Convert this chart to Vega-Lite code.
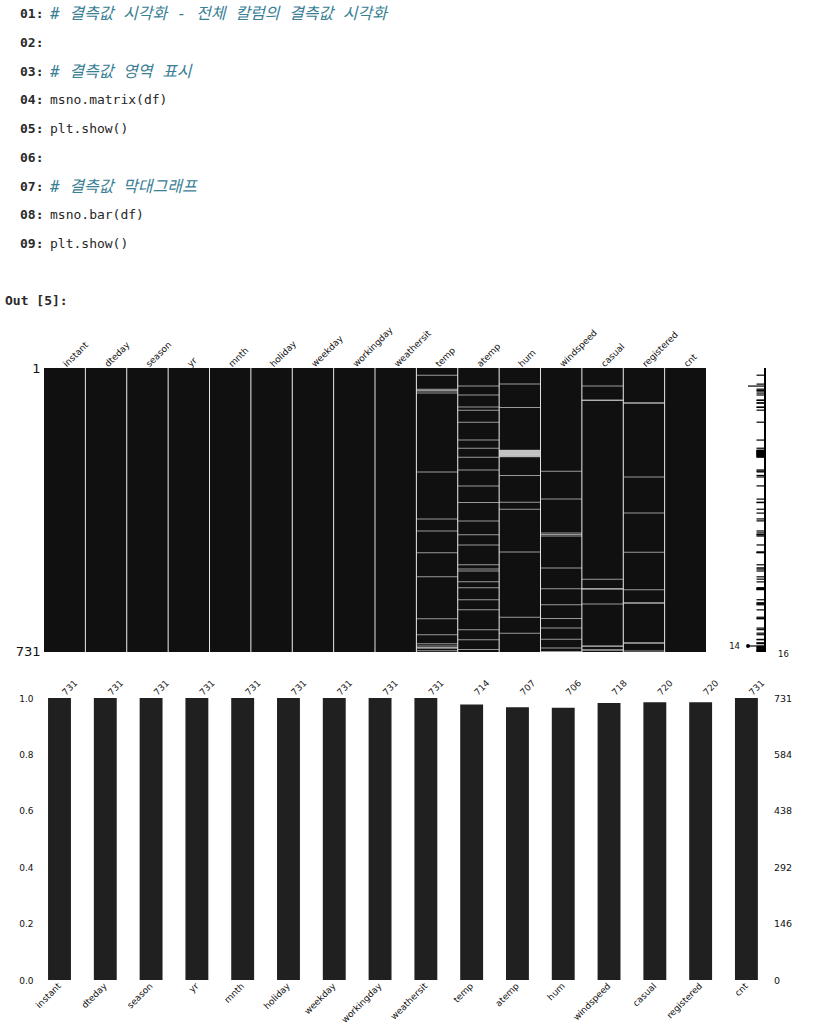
{
  "$schema": "https://vega.github.io/schema/vega-lite/v6.json",
  "background": "white",
  "padding": {"left": 5, "top": 0, "right": 0, "bottom": 0},
  "config": {
    "view": {"stroke": null},
    "font": "DejaVu Sans",
    "axis": {"labelColor": "#111111", "labelFont": "DejaVu Sans", "domain": false, "ticks": false, "grid": false}
  },
  "datasets": {
    "code": [
      {"line": 1, "part": "num", "kind": "num", "text": "01:"},
      {"line": 1, "part": "src", "kind": "comment", "text": "# 결측값 시각화 - 전체 칼럼의 결측값 시각화"},
      {"line": 2, "part": "num", "kind": "num", "text": "02:"},
      {"line": 3, "part": "num", "kind": "num", "text": "03:"},
      {"line": 3, "part": "src", "kind": "comment", "text": "# 결측값 영역 표시"},
      {"line": 4, "part": "num", "kind": "num", "text": "04:"},
      {"line": 4, "part": "src", "kind": "code", "text": "msno.matrix(df)"},
      {"line": 5, "part": "num", "kind": "num", "text": "05:"},
      {"line": 5, "part": "src", "kind": "code", "text": "plt.show()"},
      {"line": 6, "part": "num", "kind": "num", "text": "06:"},
      {"line": 7, "part": "num", "kind": "num", "text": "07:"},
      {"line": 7, "part": "src", "kind": "comment", "text": "# 결측값 막대그래프"},
      {"line": 8, "part": "num", "kind": "num", "text": "08:"},
      {"line": 8, "part": "src", "kind": "code", "text": "msno.bar(df)"},
      {"line": 9, "part": "num", "kind": "num", "text": "09:"},
      {"line": 9, "part": "src", "kind": "code", "text": "plt.show()"},
      {"line": 11, "part": "out", "kind": "num", "text": "Out [5]:"}
    ],
    "cols": [
      {"col": "instant", "count": 731},
      {"col": "dteday", "count": 731},
      {"col": "season", "count": 731},
      {"col": "yr", "count": 731},
      {"col": "mnth", "count": 731},
      {"col": "holiday", "count": 731},
      {"col": "weekday", "count": 731},
      {"col": "workingday", "count": 731},
      {"col": "weathersit", "count": 731},
      {"col": "temp", "count": 714},
      {"col": "atemp", "count": 707},
      {"col": "hum", "count": 706},
      {"col": "windspeed", "count": 718},
      {"col": "casual", "count": 720},
      {"col": "registered", "count": 720},
      {"col": "cnt", "count": 731}
    ],
    "missing": [
      {"col": "temp", "row": 19}, {"col": "temp", "row": 55}, {"col": "temp", "row": 58}, {"col": "temp", "row": 60},
      {"col": "temp", "row": 65}, {"col": "temp", "row": 268}, {"col": "temp", "row": 389}, {"col": "temp", "row": 420},
      {"col": "temp", "row": 476}, {"col": "temp", "row": 538}, {"col": "temp", "row": 646}, {"col": "temp", "row": 687},
      {"col": "temp", "row": 710}, {"col": "temp", "row": 716}, {"col": "temp", "row": 720}, {"col": "temp", "row": 722},
      {"col": "temp", "row": 728},
      {"col": "atemp", "row": 47}, {"col": "atemp", "row": 70}, {"col": "atemp", "row": 101}, {"col": "atemp", "row": 109},
      {"col": "atemp", "row": 140}, {"col": "atemp", "row": 186}, {"col": "atemp", "row": 207}, {"col": "atemp", "row": 230},
      {"col": "atemp", "row": 263}, {"col": "atemp", "row": 304}, {"col": "atemp", "row": 347}, {"col": "atemp", "row": 394},
      {"col": "atemp", "row": 430}, {"col": "atemp", "row": 456}, {"col": "atemp", "row": 507}, {"col": "atemp", "row": 518},
      {"col": "atemp", "row": 523}, {"col": "atemp", "row": 551}, {"col": "atemp", "row": 566}, {"col": "atemp", "row": 597},
      {"col": "atemp", "row": 623}, {"col": "atemp", "row": 674}, {"col": "atemp", "row": 700}, {"col": "atemp", "row": 725},
      {"col": "hum", "row": 42}, {"col": "hum", "row": 102}, {"col": "hum", "row": 212}, {"col": "hum", "row": 213},
      {"col": "hum", "row": 214}, {"col": "hum", "row": 215}, {"col": "hum", "row": 216}, {"col": "hum", "row": 217},
      {"col": "hum", "row": 218}, {"col": "hum", "row": 219}, {"col": "hum", "row": 220}, {"col": "hum", "row": 221},
      {"col": "hum", "row": 222}, {"col": "hum", "row": 223}, {"col": "hum", "row": 224}, {"col": "hum", "row": 225},
      {"col": "hum", "row": 226}, {"col": "hum", "row": 228}, {"col": "hum", "row": 229}, {"col": "hum", "row": 277},
      {"col": "hum", "row": 346}, {"col": "hum", "row": 364}, {"col": "hum", "row": 474}, {"col": "hum", "row": 642},
      {"col": "hum", "row": 683},
      {"col": "windspeed", "row": 266}, {"col": "windspeed", "row": 338}, {"col": "windspeed", "row": 425},
      {"col": "windspeed", "row": 429}, {"col": "windspeed", "row": 433}, {"col": "windspeed", "row": 515},
      {"col": "windspeed", "row": 569}, {"col": "windspeed", "row": 610}, {"col": "windspeed", "row": 645},
      {"col": "windspeed", "row": 670}, {"col": "windspeed", "row": 699}, {"col": "windspeed", "row": 721},
      {"col": "windspeed", "row": 730},
      {"col": "casual", "row": 47}, {"col": "casual", "row": 83}, {"col": "casual", "row": 84}, {"col": "casual", "row": 544},
      {"col": "casual", "row": 568}, {"col": "casual", "row": 570}, {"col": "casual", "row": 608}, {"col": "casual", "row": 716},
      {"col": "casual", "row": 717}, {"col": "casual", "row": 726}, {"col": "casual", "row": 727},
      {"col": "registered", "row": 90}, {"col": "registered", "row": 91}, {"col": "registered", "row": 281},
      {"col": "registered", "row": 374}, {"col": "registered", "row": 475}, {"col": "registered", "row": 571},
      {"col": "registered", "row": 605}, {"col": "registered", "row": 606}, {"col": "registered", "row": 708},
      {"col": "registered", "row": 709}, {"col": "registered", "row": 729}
    ],
    "spark": [
      {"row": 19, "complete": 15}, {"row": 42, "complete": 15}, {"row": 47, "complete": 14}, {"row": 55, "complete": 15},
      {"row": 58, "complete": 15}, {"row": 60, "complete": 15}, {"row": 65, "complete": 15}, {"row": 70, "complete": 15},
      {"row": 83, "complete": 15}, {"row": 84, "complete": 15}, {"row": 90, "complete": 15}, {"row": 91, "complete": 15},
      {"row": 101, "complete": 15}, {"row": 102, "complete": 15}, {"row": 109, "complete": 15}, {"row": 140, "complete": 15},
      {"row": 186, "complete": 15}, {"row": 207, "complete": 15}, {"row": 212, "complete": 15}, {"row": 213, "complete": 15},
      {"row": 214, "complete": 15}, {"row": 215, "complete": 15}, {"row": 216, "complete": 15}, {"row": 217, "complete": 15},
      {"row": 218, "complete": 15}, {"row": 219, "complete": 15}, {"row": 220, "complete": 15}, {"row": 221, "complete": 15},
      {"row": 222, "complete": 15}, {"row": 223, "complete": 15}, {"row": 224, "complete": 15}, {"row": 225, "complete": 15},
      {"row": 226, "complete": 15}, {"row": 228, "complete": 15}, {"row": 229, "complete": 15}, {"row": 230, "complete": 15},
      {"row": 263, "complete": 15}, {"row": 266, "complete": 15}, {"row": 268, "complete": 15}, {"row": 277, "complete": 15},
      {"row": 281, "complete": 15}, {"row": 304, "complete": 15}, {"row": 338, "complete": 15}, {"row": 346, "complete": 15},
      {"row": 347, "complete": 15}, {"row": 364, "complete": 15}, {"row": 374, "complete": 15}, {"row": 389, "complete": 15},
      {"row": 394, "complete": 15}, {"row": 420, "complete": 15}, {"row": 425, "complete": 15}, {"row": 429, "complete": 15},
      {"row": 430, "complete": 15}, {"row": 433, "complete": 15}, {"row": 456, "complete": 15}, {"row": 474, "complete": 15},
      {"row": 475, "complete": 15}, {"row": 476, "complete": 15}, {"row": 507, "complete": 15}, {"row": 515, "complete": 15},
      {"row": 518, "complete": 15}, {"row": 523, "complete": 15}, {"row": 538, "complete": 15}, {"row": 544, "complete": 15},
      {"row": 551, "complete": 15}, {"row": 566, "complete": 15}, {"row": 568, "complete": 15}, {"row": 569, "complete": 15},
      {"row": 570, "complete": 15}, {"row": 571, "complete": 15}, {"row": 597, "complete": 15}, {"row": 605, "complete": 15},
      {"row": 606, "complete": 15}, {"row": 608, "complete": 15}, {"row": 610, "complete": 15}, {"row": 623, "complete": 15},
      {"row": 642, "complete": 15}, {"row": 645, "complete": 15}, {"row": 646, "complete": 15}, {"row": 670, "complete": 15},
      {"row": 674, "complete": 15}, {"row": 683, "complete": 15}, {"row": 687, "complete": 15}, {"row": 699, "complete": 15},
      {"row": 700, "complete": 15}, {"row": 708, "complete": 15}, {"row": 709, "complete": 15}, {"row": 710, "complete": 15},
      {"row": 716, "complete": 14}, {"row": 717, "complete": 15}, {"row": 720, "complete": 15}, {"row": 721, "complete": 15},
      {"row": 722, "complete": 15}, {"row": 725, "complete": 15}, {"row": 726, "complete": 15}, {"row": 727, "complete": 15},
      {"row": 728, "complete": 15}, {"row": 729, "complete": 15}, {"row": 730, "complete": 15}
    ],
    "sparkLabels": [
      {"label": "14", "value": 14, "row": 716},
      {"label": "16", "value": 16, "row": 731}
    ]
  },
  "bounds": "flush",
  "spacing": 46,
  "vconcat": [
    {
      "width": 662,
      "height": 322,
      "data": {"name": "code"},
      "encoding": {
        "x": {"field": "part", "type": "nominal", "title": null,
              "scale": {"type": "point", "domain": ["out", "num", "pad", "src"], "range": [-39, 6], "padding": 0},
              "axis": null},
        "y": {"field": "line", "type": "ordinal", "title": null,
              "scale": {"type": "band", "domain": [1, 2, 3, 4, 5, 6, 7, 8, 9, 10, 11], "paddingInner": 0, "paddingOuter": 0.11, "align": 0},
              "axis": null},
        "text": {"field": "text", "type": "nominal"}
      },
      "layer": [
        {"transform": [{"filter": "datum.kind === 'num'"}],
         "mark": {"type": "text", "align": "left", "baseline": "middle", "font": "DejaVu Sans Mono", "fontWeight": "bold", "fontSize": 13, "color": "#2a2a2a"}},
        {"transform": [{"filter": "datum.kind === 'code'"}],
         "mark": {"type": "text", "align": "left", "baseline": "middle", "font": "DejaVu Sans Mono", "fontSize": 13, "color": "#262626"}},
        {"transform": [{"filter": "datum.kind === 'comment'"}],
         "mark": {"type": "text", "align": "left", "baseline": "middle", "font": "DejaVu Sans Mono, Noto Sans CJK KR", "fontStyle": "italic", "fontSize": 16, "color": "#3a8095"}}
      ]
    },
    {
      "width": 662,
      "height": 284,
      "layer": [
        {
          "layer": [
            {
              "data": {"name": "cols"},
              "mark": {"type": "rect", "color": "#101010"},
              "encoding": {
                "x": {"field": "col", "type": "nominal", "title": null,
                      "scale": {"domain": ["instant", "dteday", "season", "yr", "mnth", "holiday", "weekday", "workingday", "weathersit", "temp", "atemp", "hum", "windspeed", "casual", "registered", "cnt"], "paddingInner": 0, "paddingOuter": 0},
                      "axis": {"orient": "top", "labelAngle": -45, "labelAlign": "left", "labelBaseline": "middle", "labelPadding": 3, "labelFontSize": 9}},
                "y": {"datum": 0.5, "type": "quantitative", "title": null,
                      "scale": {"domain": [0.5, 731.5], "reverse": true, "nice": false, "zero": false},
                      "axis": {"values": [1, 731], "labelFontSize": 13, "labelPadding": 4}},
                "y2": {"datum": 731.5}
              }
            },
            {
              "data": {"name": "missing"},
              "mark": {"type": "tick", "color": "#d4d4d4", "thickness": 1, "size": 41.4},
              "encoding": {
                "x": {"field": "col", "type": "nominal", "title": null},
                "y": {"field": "row", "type": "quantitative", "title": null}
              }
            },
            {
              "data": {"name": "cols"},
              "transform": [{"filter": "datum.col !== 'instant'"}],
              "mark": {"type": "rule", "color": "#e4e4e4", "strokeWidth": 1},
              "encoding": {
                "x": {"field": "col", "type": "nominal", "bandPosition": 0, "title": null}
              }
            }
          ]
        },
        {
          "layer": [
            {
              "data": {"name": "spark"},
              "mark": {"type": "rule", "color": "#000000", "strokeWidth": 1.2},
              "encoding": {
                "x": {"field": "complete", "type": "quantitative", "title": null,
                      "scale": {"domain": [10.7, 16], "range": [676, 721], "nice": false, "zero": false}, "axis": null},
                "x2": {"datum": 16},
                "y": {"field": "row", "type": "quantitative", "title": null}
              }
            },
            {
              "data": {"name": "sparkLabels"},
              "transform": [{"filter": "datum.value === 16"}],
              "mark": {"type": "rule", "color": "#000000", "strokeWidth": 2},
              "encoding": {
                "x": {"field": "value", "type": "quantitative", "title": null}
              }
            },
            {
              "data": {"name": "sparkLabels"},
              "transform": [{"filter": "datum.value === 14"}],
              "mark": {"type": "circle", "color": "#000000", "size": 16, "opacity": 1},
              "encoding": {
                "x": {"field": "value", "type": "quantitative", "title": null},
                "y": {"field": "row", "type": "quantitative", "title": null}
              }
            },
            {
              "data": {"name": "sparkLabels"},
              "transform": [{"filter": "datum.value === 14"}],
              "mark": {"type": "text", "align": "right", "baseline": "middle", "dx": -8, "fontSize": 8.5, "color": "#111111"},
              "encoding": {
                "x": {"field": "value", "type": "quantitative", "title": null},
                "y": {"field": "row", "type": "quantitative", "title": null},
                "text": {"field": "label", "type": "nominal"}
              }
            },
            {
              "data": {"name": "sparkLabels"},
              "transform": [{"filter": "datum.value === 16"}],
              "mark": {"type": "text", "align": "left", "baseline": "middle", "dx": 13, "dy": 2, "fontSize": 8.5, "color": "#111111"},
              "encoding": {
                "x": {"field": "value", "type": "quantitative", "title": null},
                "y": {"field": "row", "type": "quantitative", "title": null},
                "text": {"field": "label", "type": "nominal"}
              }
            }
          ]
        }
      ],
      "resolve": {"scale": {"x": "independent"}, "axis": {"x": "independent"}}
    },
    {
      "width": 725.4,
      "height": 282,
      "data": {"name": "cols"},
      "layer": [
        {
          "mark": {"type": "bar", "color": "#202020"},
          "encoding": {
            "x": {"field": "col", "type": "nominal", "title": null,
                  "scale": {"domain": ["instant", "dteday", "season", "yr", "mnth", "holiday", "weekday", "workingday", "weathersit", "temp", "atemp", "hum", "windspeed", "casual", "registered", "cnt"], "paddingInner": 0.5, "paddingOuter": 0.17, "align": 0.26},
                  "axis": {"labelAngle": -45, "labelAlign": "right", "labelBaseline": "middle", "labelPadding": 4, "labelFontSize": 9}},
            "y": {"field": "count", "type": "quantitative", "title": null,
                  "scale": {"domain": [0, 731], "nice": false, "zero": true},
                  "axis": {"values": [0, 146.2, 292.4, 438.6, 584.8, 731], "labelExpr": "format(datum.value / 731, '.1f')", "labelFontSize": 9, "labelPadding": 11}}
          }
        },
        {
          "mark": {"type": "text", "angle": -45, "align": "left", "baseline": "middle", "dx": 6, "fontSize": 9, "color": "#1a1a1a"},
          "encoding": {
            "x": {"field": "col", "type": "nominal", "title": null},
            "y": {"datum": 731, "type": "quantitative", "title": null,
                  "axis": {"orient": "right", "values": [0, 146.2, 292.4, 438.6, 584.8, 731], "labelExpr": "floor(datum.value)", "labelFontSize": 9.5, "labelPadding": 4}},
            "text": {"field": "count", "type": "quantitative"}
          }
        }
      ],
      "resolve": {"axis": {"y": "independent"}}
    }
  ]
}
